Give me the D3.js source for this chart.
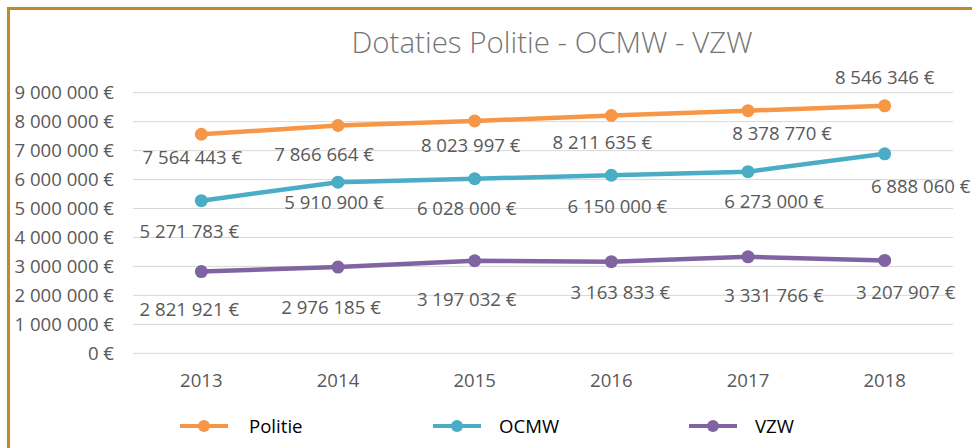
<!DOCTYPE html>
<html>
<head>
<meta charset="utf-8">
<script src="https://cdn.jsdelivr.net/npm/d3@7"></script>
<style>
    body { margin: 0; background: #fff; }
    text { font-family: "Open Sans", sans-serif; }
</style>
</head>
<body>
<svg id="chart"></svg>
<script>
const years = ['2013', '2014', '2015', '2016', '2017', '2018'];
const politie = [7564443, 7866664, 8023997, 8211635, 8378770, 8546346];
const ocmw = [5271783, 5910900, 6028000, 6150000, 6273000, 6888060];
const vzw = [2821921, 2976185, 3197032, 3163833, 3331766, 3207907];
const yTicks = [0, 1000000, 2000000, 3000000, 4000000, 5000000, 6000000, 7000000, 8000000, 9000000];
const seriesNames = ['Politie', 'OCMW', 'VZW'];

// label nudges (dx, dy) from each point, like Excel's hand-placed labels
const politieNudge = [[-9, 23], [-14, 29], [-4, 25], [-9, 27], [34, 23], [0, -28]];
const ocmwNudge = [[-12, 31], [-4, 20], [-8, 30], [6, 31], [26, 30], [36, 33]];
const vzwNudge = [[-12, 38], [-7, 40], [-8, 39], [9, 31], [26, 39], [21, 32]];

const width = 972;
const height = 448;
const fontSize = '18.6px';

const svg = d3.select('#chart')
    .attr('width', width)
    .attr('height', height);

// frame (only top and left edge are visible in the picture)
svg.append('rect')
    .attr('x', 8.5)
    .attr('y', 8.5)
    .attr('width', width + 20)
    .attr('height', height + 20)
    .attr('fill', 'none')
    .attr('stroke', '#C28A26')
    .attr('stroke-width', 3);

const euro = d3.formatLocale({ decimal: ',', thousands: ' ', grouping: [3], currency: ['', ' €'] }).format('$,.0f');

const xScale = d3.scaleBand()
    .domain(years)
    .range([133, 953]);

const yScale = d3.scaleLinear()
    .domain([0, 9000000])
    .range([353.3, 92.7]);

const xPos = d => xScale(d) + xScale.bandwidth() / 2;

svg.append('text')
    .attr('x', 552)
    .attr('y', 53)
    .attr('text-anchor', 'middle')
    .attr('fill', '#757575')
    .style('font-size', '29.5px')
    .style('font-weight', 300)
    .text('Dotaties Politie - OCMW - VZW');

// gridlines
svg.append('g')
    .selectAll('line')
    .data(yTicks)
    .enter().append('line')
    .attr('x1', 133)
    .attr('x2', 953)
    .attr('y1', d => yScale(d))
    .attr('y2', d => yScale(d))
    .attr('stroke', '#d9d9d9')
    .attr('stroke-width', 1);

// y axis
const yAxis = svg.append('g')
    .attr('transform', 'translate(114,0)')
    .call(d3.axisLeft(yScale).tickValues(yTicks).tickFormat(euro).tickSize(0).tickPadding(0));
yAxis.select('.domain').remove();
yAxis.selectAll('text')
    .attr('fill', '#595959')
    .style('font-size', fontSize)
    .style('font-family', '"Open Sans", sans-serif');

// x axis
const xAxis = svg.append('g')
    .attr('transform', 'translate(0,374)')
    .call(d3.axisBottom(xScale).tickSize(0).tickPadding(0));
xAxis.select('.domain').remove();
xAxis.selectAll('text')
    .attr('fill', '#595959')
    .style('font-size', fontSize)
    .style('font-family', '"Open Sans", sans-serif');

const series = [
    { name: seriesNames[0], values: politie, nudge: politieNudge, color: '#F79646' },
    { name: seriesNames[1], values: ocmw, nudge: ocmwNudge, color: '#4BACC6' },
    { name: seriesNames[2], values: vzw, nudge: vzwNudge, color: '#8064A2' }
];

const line = d3.line()
    .x((d, i) => xPos(years[i]))
    .y(d => yScale(d));

series.forEach(s => {
    const g = svg.append('g');
    g.append('path')
        .datum(s.values)
        .attr('d', line)
        .attr('fill', 'none')
        .attr('stroke', s.color)
        .attr('stroke-width', 4.5)
        .attr('stroke-linejoin', 'round');

    g.selectAll('circle')
        .data(s.values)
        .enter().append('circle')
        .attr('cx', (d, i) => xPos(years[i]))
        .attr('cy', d => yScale(d))
        .attr('r', 6.5)
        .attr('fill', s.color);

    g.selectAll('text')
        .data(s.values)
        .enter().append('text')
        .attr('x', (d, i) => xPos(years[i]) + s.nudge[i][0])
        .attr('y', (d, i) => yScale(d) + s.nudge[i][1])
        .attr('dy', '0.35em')
        .attr('text-anchor', 'middle')
        .attr('fill', '#595959')
        .style('font-size', fontSize)
        .text(d => euro(d));
});

// legend
const legendX = [180, 433, 689];
const legend = svg.append('g')
    .selectAll('g')
    .data(series)
    .enter().append('g')
    .attr('transform', (d, i) => `translate(${legendX[i]},426)`);

legend.append('line')
    .attr('x1', 0)
    .attr('x2', 48)
    .attr('stroke', d => d.color)
    .attr('stroke-width', 4);

legend.append('circle')
    .attr('cx', 24)
    .attr('r', 6)
    .attr('fill', d => d.color);

legend.append('text')
    .attr('x', (d, i) => i === 0 ? 69 : 66)
    .attr('dy', '0.35em')
    .attr('fill', '#000')
    .style('font-size', fontSize)
    .text(d => d.name);
</script>
</body>
</html>
